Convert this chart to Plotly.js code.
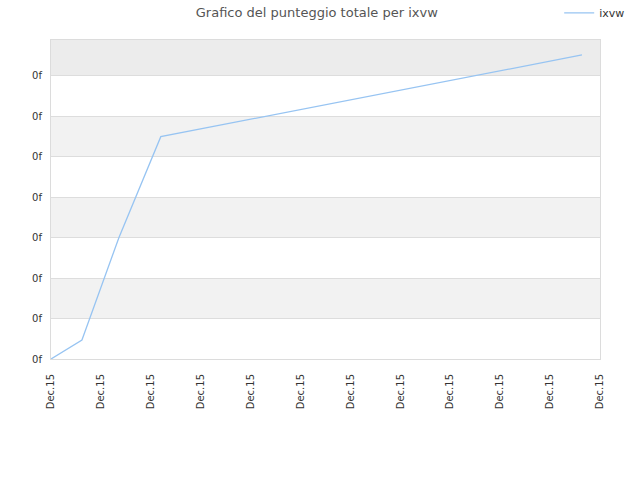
<!DOCTYPE html>
<html>
<head>
<meta charset="utf-8">
<script src="https://cdn.plot.ly/plotly-3.0.1.min.js"></script>
<style>
  html, body { margin: 0; padding: 0; background: #fff; }
  #graphic { width: 640px; height: 480px; }
</style>
</head>
<body>
<div id="graphic"></div>
<script>
// data
var seriesName = "ixvw";
var xValues = [0, 0.62, 1.36, 2.2, 10.64];
var yValues = [0, 0.47, 3.0, 5.5, 7.52];

var xTickVals = [0, 1, 2, 3, 4, 5, 6, 7, 8, 9, 10, 11];
var xTickText = ["Dec.15", "Dec.15", "Dec.15", "Dec.15", "Dec.15", "Dec.15",
                 "Dec.15", "Dec.15", "Dec.15", "Dec.15", "Dec.15", "Dec.15"];
var yTickVals = [0, 1, 2, 3, 4, 5, 6, 7];
var yTickText = ["0f", "0f", "0f", "0f", "0f", "0f", "0f", "0f"];

var yTop = 7.89;

// alternating grey bands behind the plot
var shapes = [];
[[1, 2], [3, 4], [5, 6]].forEach(function (b) {
    shapes.push({
        type: 'rect', xref: 'paper', yref: 'y', x0: 0, x1: 1, y0: b[0], y1: b[1],
        fillcolor: '#f2f2f2', line: {width: 0}, layer: 'below'
    });
});
shapes.push({
    type: 'rect', xref: 'paper', yref: 'y', x0: 0, x1: 1, y0: 7, y1: yTop,
    fillcolor: '#ececec', line: {width: 0}, layer: 'below'
});

var trace = {
    x: xValues,
    y: yValues,
    type: 'scatter',
    mode: 'lines',
    name: seriesName,
    line: {color: '#97c4f2', width: 1.3}
};

var layout = {
    width: 640,
    height: 480,
    margin: {l: 51, r: 40, t: 40, b: 121, autoexpand: false},
    paper_bgcolor: '#ffffff',
    plot_bgcolor: '#ffffff',
    font: {family: 'DejaVu Sans', size: 10, color: '#333'},
    title: {
        text: 'Grafico del punteggio totale per ixvw',
        font: {family: 'DejaVu Sans', size: 13, color: '#555'},
        x: 0.495, xanchor: 'center', y: 0.975, yanchor: 'middle'
    },
    showlegend: true,
    legend: {
        x: 1.055, xanchor: 'right', y: 1.085, yanchor: 'middle',
        font: {family: 'DejaVu Sans', size: 11, color: '#333'},
        bgcolor: 'rgba(0,0,0,0)'
    },
    xaxis: {
        range: [0, 11.001],
        tickmode: 'array',
        tickvals: xTickVals,
        ticktext: xTickText,
        tickangle: -90,
        ticklabelstandoff: 10,
        showgrid: false,
        zeroline: false,
        showline: true,
        mirror: true,
        linecolor: '#dcdcdc',
        linewidth: 1,
        tickfont: {family: 'DejaVu Sans', size: 10, color: '#333'}
    },
    yaxis: {
        range: [0, yTop],
        tickmode: 'array',
        tickvals: yTickVals,
        ticktext: yTickText,
        ticklabelstandoff: 6,
        showgrid: true,
        gridcolor: '#dddddd',
        gridwidth: 1,
        zeroline: false,
        showline: true,
        mirror: true,
        linecolor: '#dcdcdc',
        linewidth: 1,
        tickfont: {family: 'DejaVu Sans', size: 10, color: '#333'}
    },
    shapes: shapes
};

Plotly.newPlot(document.getElementById("graphic"), [trace], layout, {displayModeBar: false, staticPlot: true});
</script>
</body>
</html>
